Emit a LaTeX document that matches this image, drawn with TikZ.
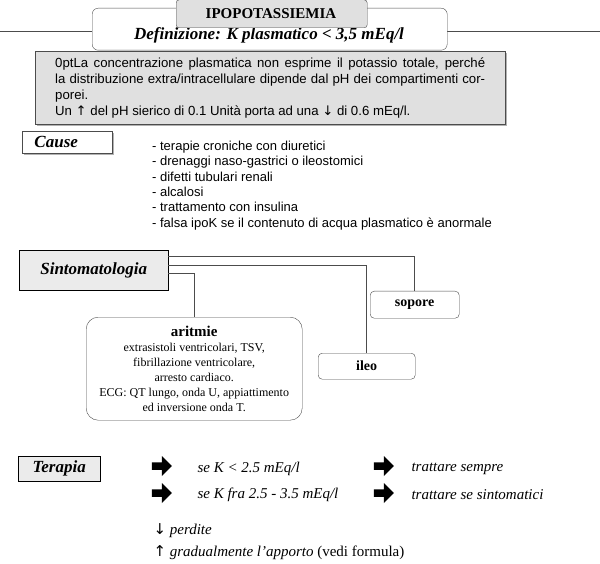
\documentclass[tikz,border=0pt]{standalone}
\usepackage{fontspec}
\setmainfont{Liberation Serif}
\setsansfont{Liberation Sans}
\newfontfamily\symfont{DejaVu Sans}
\usetikzlibrary{positioning,shadows,shapes.arrows}

\newcommand{\fsz}[2]{\fontsize{#1}{#2}\selectfont}

\tikzset{
  titlebox/.style = {draw=black!70, fill=black!12, rounded corners=3pt},
  defbox/.style = {draw=black!70, fill=white, rounded corners=6pt},
  notebox/.style = {draw=black!70, fill=black!12, drop shadow={shadow xshift=2pt, shadow yshift=-2pt, fill=black!60}},
  headbox/.style = {draw=black, fill=black!8, font=\bfseries\itshape\fsz{17}{20}, inner sep=0pt},
  symbox/.style = {draw=black!70, fill=white, rounded corners=4pt, font=\bfseries\fsz{14}{16}, inner sep=0pt},
  link/.style = {draw=black!70, line width=0.8pt},
  fatarrow/.style = {single arrow, fill=black, minimum height=20pt, minimum width=20pt,
    single arrow head extend=2pt, inner sep=1pt}
}

\begin{document}
\begin{tikzpicture}[x=1pt, y=-1pt]
  \useasboundingbox (0,0) rectangle (600,564);

  % intestazione
  \draw[black!70] (0,31) -- (600,31);
  \node[defbox, minimum width=355pt, minimum height=42pt, anchor=north west] (def) at (92,8) {};
  \node[font=\bfseries\itshape\fsz{17}{20}] (deftext) at (269,35) {Definizione: K plasmatico < 3,5 mEq/l};
  \node[titlebox, minimum width=191pt, minimum height=28pt, anchor=south west] (title) at (176,28) {};
  \node[font=\bfseries\fsz{15}{18}] at (271,14) {IPOPOTASSIEMIA};

  \node[notebox, minimum width=470pt, minimum height=73pt, anchor=north west] (note) at (35,51) {};
  \node[text width=430pt, align=justify, font=\sffamily\fsz{13.2}{16}\hyphenpenalty=10000, inner sep=0pt] (notetext) at (note.center)
    {La concentrazione plasmatica non esprime il potassio totale, perché la distribuzione extra/intracellulare dipende dal pH dei compartimenti corporei.\\
     Un {\symfont ↑} del pH sierico di 0.1 Unità porta ad una {\symfont ↓} di 0.6 mEq/l.};

  % cause
  \node[headbox, notebox, fill=white, minimum width=90pt, minimum height=22pt, anchor=north west] (cause) at (22,131) {\hspace*{-22pt}Cause};
  \node[anchor=north west, align=left, font=\sffamily\fsz{13}{15.3}, inner sep=0pt] (causelist) at (152,141)
    {- terapie croniche con diuretici\\
     - drenaggi naso-gastrici o ileostomici\\
     - difetti tubulari renali\\
     - alcalosi\\
     - trattamento con insulina\\
     - falsa ipoK se il contenuto di acqua plasmatico è anormale};

  % sintomatologia
  \node[headbox, minimum width=149pt, minimum height=40pt, anchor=north west] (sint) at (19,250) {Sintomatologia};
  \node[symbox, minimum width=89pt, minimum height=27pt, anchor=north west] (sopore) at (370,291) {sopore};
  \node[symbox, minimum width=97pt, minimum height=26pt, anchor=north west] (ileo) at (318,353) {ileo};
  \node[symbox, rounded corners=12pt, minimum width=216pt, minimum height=103pt, anchor=north west, font=\fsz{12}{15}, align=center] (aritmie) at (86,317)
    {{\bfseries\fsz{15}{16}aritmie}\\ extrasistoli ventricolari, TSV,\\ fibrillazione ventricolare,\\ arresto cardiaco.\\ ECG: QT lungo, onda U, appiattimento\\ ed inversione onda T.};
  \draw[link] (sint.east |- 0,256) -| (sopore.north);
  \draw[link] (sint.east |- 0,265) -| (ileo.north);
  \draw[link] (sint.east |- 0,273) -| (aritmie.north);

  % terapia
  \node[headbox, minimum width=82pt, minimum height=25pt, anchor=north west] (terapia) at (18,456) {Terapia};
  \node[fatarrow] (a1) at (160,466) {};
  \node[fatarrow] (a2) at (160,493) {};
  \node[fatarrow] (a3) at (382,466) {};
  \node[fatarrow] (a4) at (382,493) {};
  \node[anchor=west, font=\itshape\fsz{15}{18}] (c1) at (194,469) {se K < 2.5 mEq/l};
  \node[anchor=west, font=\itshape\fsz{15}{18}] (c2) at (194,495) {se K fra 2.5 - 3.5 mEq/l};
  \node[anchor=west, font=\itshape\fsz{15}{18}] (t1) at (408,469) {trattare sempre};
  \node[anchor=west, font=\itshape\fsz{15}{18}] (t2) at (408,495) {trattare se sintomatici};
  \node[anchor=west, font=\fsz{15}{18}] (perdite) at (150,531) {{\symfont ↓} \textit{perdite}};
  \node[anchor=west, font=\fsz{15}{18}] (apporto) at (150,553) {{\symfont ↑} \textit{gradualmente l'apporto} (vedi formula)};
\end{tikzpicture}
\end{document}
